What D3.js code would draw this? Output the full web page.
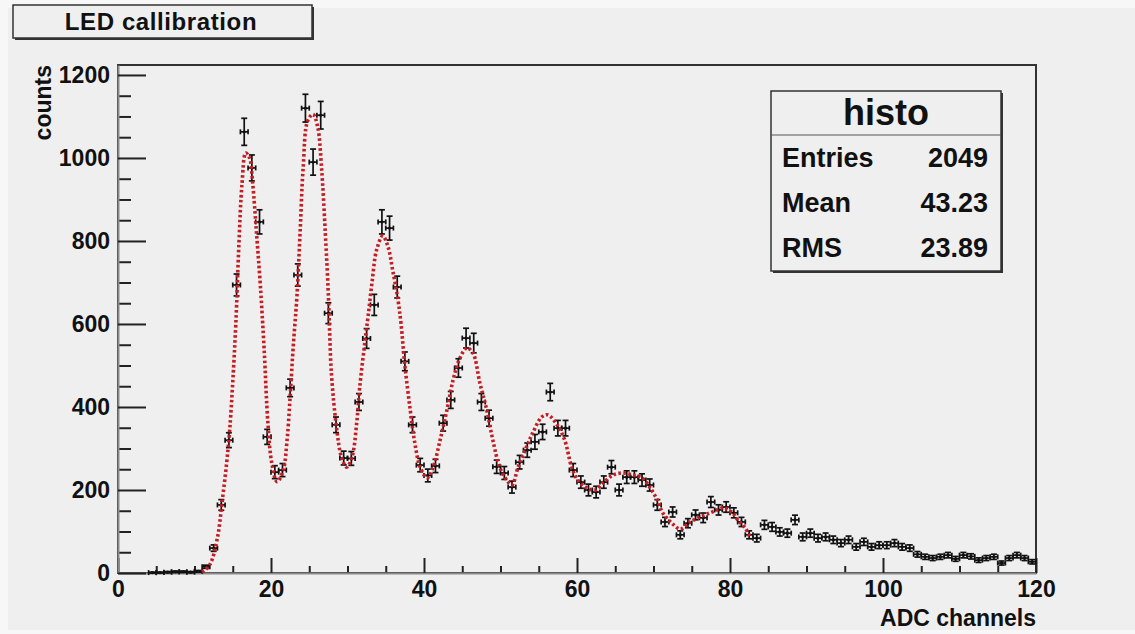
<!DOCTYPE html>
<html lang="en">
<head>
  <meta charset="utf-8">
  <script src="https://d3js.org/d3.v7.min.js"></script>
  <title>LED callibration</title>
  <style>
    body { margin: 0; background: #f7f7f7; }
    text { font-family: "Liberation Sans", Arial, sans-serif; font-weight: bold; fill: #111; }
    .axis .domain { stroke: #8a8a8a; stroke-width: 2px; }
    .axis .tick line { stroke: #222; stroke-width: 2px; }
    .axis text { font-size: 23px; font-family: "Liberation Sans", Arial, sans-serif; font-weight: bold; fill: #111; }
    .err line { stroke: #111; stroke-width: 1.7px; }
  </style>
</head>
<body>
<svg id="chart" width="1135" height="634"></svg>
<script>
// histogram contents, one value per 1-channel bin from 0 to 120
let counts = [
  0, 0, 0, 0, 1, 1, 2, 3, 3, 2,
  4, 15, 60, 164, 320, 694, 1063, 976, 846, 328,
  243, 248, 446, 718, 1120, 990, 1103, 626, 357, 277,
  276, 412, 565, 646, 846, 831, 689, 510, 357, 260,
  235, 258, 361, 417, 494, 566, 554, 412, 373, 256,
  241, 207, 267, 296, 316, 340, 436, 349, 349, 248,
  219, 200, 195, 219, 255, 200, 231, 231, 224, 212,
  164, 123, 147, 92, 120, 140, 133, 171, 152, 159,
  145, 123, 92, 84, 116, 111, 99, 96, 128, 87,
  96, 84, 87, 80, 72, 80, 63, 75, 63, 67,
  67, 72, 63, 60, 45, 39, 36, 39, 43, 34,
  43, 40, 31, 36, 39, 24, 36, 43, 36, 27
];

// fit curve (channel, counts)
let fitX = [11, 12, 13, 13.6, 14.2, 14.6, 15, 15.4, 15.8, 16.2, 16.7, 17.2, 17.6, 18.1, 18.6, 19.1, 19.6, 20.1, 20.8,
  21.6, 22.1, 22.5, 22.9, 23.4, 23.8, 24.2, 24.8, 25.5, 26.1, 26.6, 27.1, 27.5, 27.9, 28.6, 29.2, 29.9,
  30.6, 31.2, 31.6, 32.3, 32.7, 33.2, 33.8, 34.6, 35.3, 35.9, 36.6, 37, 37.5, 38.2, 38.8, 39.5, 40.4,
  41.2, 42.1, 43, 43.8, 44.7, 45.6, 46.4, 47.3, 48.2, 49, 49.9, 50.8, 51.5, 52.3, 53.4, 54.2, 55.4,
  56.2, 57.4, 58.4, 59.3, 60.1, 61.3, 62.4, 63.4, 64.7, 66, 67.3, 68.5, 69.5, 70.5, 71.2, 72.4, 73.5,
  74.8, 76.1, 77.4, 78.3, 79.1, 80.2, 81, 82, 82.6];
let fitY = [2, 20, 85, 170, 265, 345, 460, 600, 790, 935, 1012, 1000, 940, 820, 695, 540, 360, 265, 220,
  248, 320, 424, 544, 670, 819, 975, 1090, 1105, 1075, 978, 819, 670, 480, 345, 280, 255,
  280, 361, 448, 560, 620, 699, 778, 812, 786, 730, 658, 600, 500, 393, 313, 255, 229,
  255, 320, 393, 465, 518, 542, 530, 458, 393, 320, 255, 224, 212, 255, 304, 337, 376,
  381, 357, 320, 255, 224, 205, 200, 217, 236, 241, 236, 229, 207, 176, 145, 120, 106,
  123, 135, 145, 152, 157, 147, 128, 108, 87];

let xTicks = [0, 20, 40, 60, 80, 100, 120];
let yTicks = [0, 200, 400, 600, 800, 1000, 1200];
let statNames = ["Entries", "Mean", "RMS"];
let statValues = ["2049", "43.23", "23.89"];

let svg = d3.select("#chart");
let padL = 118, padR = 1036, padT = 65, padB = 573;

svg.append("rect").attr("x", 8).attr("y", 8).attr("width", 1127).attr("height", 622).style("fill", "#efefef");

let x = d3.scaleLinear().domain([0, 120]).range([padL, padR]);
let y = d3.scaleLinear().domain([0, 1224]).range([padB, padT]);

// frame
svg.append("rect")
  .attr("x", padL).attr("y", padT)
  .attr("width", padR - padL).attr("height", padB - padT)
  .style("fill", "none").style("stroke", "#333").style("stroke-width", 2);

// minor ticks
svg.append("g").attr("class", "axis").attr("transform", `translate(0,${padB})`)
  .call(d3.axisBottom(x).tickValues(d3.range(0, 121, 5).filter(v => v % 20 != 0)).tickSize(-7).tickFormat(""))
  .select(".domain").remove();
svg.append("g").attr("class", "axis").attr("transform", `translate(${padL},0)`)
  .call(d3.axisLeft(y).tickValues(d3.range(0, 1201, 50).filter(v => v % 200 != 0)).tickSize(-13).tickFormat(""))
  .select(".domain").remove();

// main axes
svg.append("g").attr("class", "axis").attr("transform", `translate(0,${padB})`)
  .call(d3.axisBottom(x).tickValues(xTicks).tickSizeInner(-15).tickSizeOuter(0).tickPadding(8).tickFormat(d3.format("d")));
svg.append("g").attr("class", "axis").attr("transform", `translate(${padL},0)`)
  .call(d3.axisLeft(y).tickValues(yTicks).tickSizeInner(-28).tickSizeOuter(0).tickPadding(8).tickFormat(d3.format("d")));

// error bars (E1 style)
let bins = counts.map((c, i) => ({ i: i, c: c })).filter(d => d.c > 0);
let g = svg.append("g").attr("class", "err")
  .selectAll("g").data(bins).join("g");
let cx = d => x(d.i + 0.5);
let e = d => Math.sqrt(d.c);
g.append("line").attr("x1", cx).attr("x2", cx)
  .attr("y1", d => y(d.c + e(d))).attr("y2", d => y(Math.max(0, d.c - e(d))));
g.append("line").attr("x1", d => x(d.i)).attr("x2", d => x(d.i + 1))
  .attr("y1", d => y(d.c)).attr("y2", d => y(d.c));
g.append("line").attr("x1", d => cx(d) - 3).attr("x2", d => cx(d) + 3)
  .attr("y1", d => y(d.c + e(d))).attr("y2", d => y(d.c + e(d)));
g.append("line").attr("x1", d => cx(d) - 3).attr("x2", d => cx(d) + 3)
  .attr("y1", d => y(Math.max(0, d.c - e(d)))).attr("y2", d => y(Math.max(0, d.c - e(d))));
g.append("line").attr("x1", d => x(d.i)).attr("x2", d => x(d.i))
  .attr("y1", d => y(d.c) - 2.5).attr("y2", d => y(d.c) + 2.5);
g.append("line").attr("x1", d => x(d.i + 1)).attr("x2", d => x(d.i + 1))
  .attr("y1", d => y(d.c) - 2.5).attr("y2", d => y(d.c) + 2.5);
g.append("circle").attr("cx", cx).attr("cy", d => y(d.c)).attr("r", 1.6).style("fill", "#111");

// fit curve
let line = d3.line()
  .x((d, i) => x(fitX[i]))
  .y(d => y(d))
  .curve(d3.curveCatmullRom);
svg.append("path")
  .attr("d", line(fitY))
  .style("fill", "none")
  .style("stroke", "#c41e24")
  .style("stroke-width", 3.6)
  .style("stroke-dasharray", "2.6,2.4");

// axis titles
svg.append("text")
  .attr("transform", "translate(51,65) rotate(-90)")
  .attr("text-anchor", "end")
  .style("font-size", "23px")
  .text("counts");
svg.append("text")
  .attr("x", padR).attr("y", 626)
  .attr("text-anchor", "end")
  .style("font-size", "23px")
  .text("ADC channels");

// title box
svg.append("rect").attr("x", 15).attr("y", 7).attr("width", 299).attr("height", 33).style("fill", "#333");
svg.append("rect").attr("x", 13).attr("y", 5).attr("width", 299).attr("height", 33)
  .style("fill", "#efefef").style("stroke", "#333").style("stroke-width", 1.5);
svg.append("text")
  .attr("x", 161).attr("y", 30)
  .attr("text-anchor", "middle")
  .style("font-size", "24px")
  .style("letter-spacing", "0.6px")
  .text("LED callibration");

// stats box
let sb = { x: 771, y: 91, w: 230, h: 180 };
svg.append("rect").attr("x", sb.x + 2).attr("y", sb.y + 2).attr("width", sb.w).attr("height", sb.h).style("fill", "#333");
svg.append("rect").attr("x", sb.x).attr("y", sb.y).attr("width", sb.w).attr("height", sb.h)
  .style("fill", "#efefef").style("stroke", "#333").style("stroke-width", 1.5);
svg.append("line").attr("x1", sb.x).attr("x2", sb.x + sb.w).attr("y1", 135).attr("y2", 135)
  .style("stroke", "#555").style("stroke-width", 1.2);
svg.append("text")
  .attr("x", sb.x + sb.w / 2).attr("y", 125)
  .attr("text-anchor", "middle")
  .style("font-size", "36px")
  .text("histo");
svg.selectAll(".sname").data(statNames).join("text")
  .attr("class", "sname")
  .attr("x", 782).attr("y", (d, i) => 167 + i * 45)
  .style("font-size", "27px")
  .text(d => d);
svg.selectAll(".sval").data(statValues).join("text")
  .attr("class", "sval")
  .attr("x", 988).attr("y", (d, i) => 167 + i * 45)
  .attr("text-anchor", "end")
  .style("font-size", "27px")
  .text(d => d);
</script>
</body>
</html>
